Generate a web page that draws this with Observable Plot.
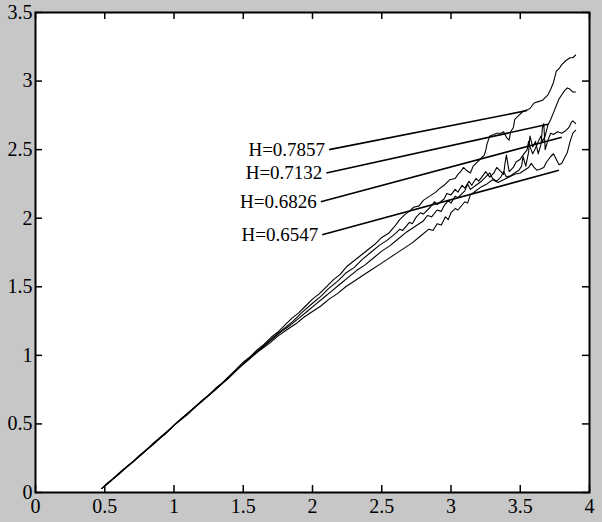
<!DOCTYPE html>
<html><head><meta charset="utf-8">
<script src="https://cdn.jsdelivr.net/npm/d3@7"></script>
<script src="https://cdn.jsdelivr.net/npm/@observablehq/plot@0.6"></script>
<style>html,body{margin:0;padding:0;background:#c7c7c7;}</style>
</head><body><div id="chart"></div>
<script>
const xDomain = [0, 4];
const yDomain = [0, 3.5];
const xTicks = [0, 0.5, 1, 1.5, 2, 2.5, 3, 3.5, 4];
const xTickLabels = ["0", "0.5", "1", "1.5", "2", "2.5", "3", "3.5", "4"];
const yTicks = [0, 0.5, 1, 1.5, 2, 2.5, 3, 3.5];
const yTickLabels = ["0", "0.5", "1", "1.5", "2", "2.5", "3", "3.5"];

const seriesNames = ["H=0.7857", "H=0.7132", "H=0.6826", "H=0.6547"];

const h7857 = [[0.48,0.03],[0.52,0.07],[0.56,0.10],[0.6,0.13],[0.65,0.18],[0.7,0.22],[0.75,0.27],[0.8,0.31],[0.85,0.35],[0.9,0.40],[0.95,0.44],[1.0,0.49],[1.05,0.53],[1.1,0.57],[1.15,0.62],[1.2,0.67],[1.25,0.71],[1.3,0.76],[1.35,0.80],[1.4,0.85],[1.45,0.90],[1.5,0.95],[1.55,0.99],[1.6,1.04],[1.65,1.08],[1.7,1.13],[1.75,1.17],[1.8,1.22],[1.85,1.27],[1.9,1.31],[1.95,1.36],[2.0,1.41],[2.05,1.45],[2.1,1.50],[2.15,1.55],[2.2,1.59],[2.25,1.65],[2.3,1.69],[2.35,1.73],[2.4,1.77],[2.45,1.81],[2.5,1.86],[2.55,1.89],[2.6,1.95],[2.63,1.99],[2.67,2.03],[2.7,2.05],[2.73,2.08],[2.77,2.09],[2.8,2.13],[2.83,2.15],[2.86,2.17],[2.89,2.19],[2.91,2.21],[2.95,2.24],[2.99,2.28],[3.03,2.29],[3.05,2.32],[3.07,2.34],[3.09,2.37],[3.11,2.35],[3.14,2.33],[3.16,2.38],[3.18,2.40],[3.21,2.43],[3.24,2.46],[3.25,2.49],[3.26,2.54],[3.28,2.60],[3.31,2.61],[3.33,2.62],[3.36,2.62],[3.38,2.63],[3.40,2.59],[3.42,2.57],[3.43,2.63],[3.45,2.66],[3.46,2.72],[3.49,2.75],[3.52,2.78],[3.55,2.79],[3.57,2.80],[3.60,2.84],[3.63,2.85],[3.66,2.86],[3.70,2.90],[3.72,2.94],[3.74,2.99],[3.76,3.07],[3.78,3.09],[3.80,3.12],[3.83,3.15],[3.86,3.17],[3.88,3.17],[3.90,3.19]];

const h7132 = [[0.48,0.03],[0.55,0.09],[0.62,0.15],[0.7,0.22],[0.78,0.29],[0.85,0.36],[0.92,0.42],[1.0,0.49],[1.08,0.56],[1.15,0.62],[1.22,0.68],[1.3,0.75],[1.38,0.83],[1.45,0.89],[1.52,0.96],[1.6,1.03],[1.67,1.09],[1.74,1.15],[1.8,1.20],[1.86,1.25],[1.92,1.31],[2.0,1.38],[2.06,1.43],[2.12,1.49],[2.18,1.54],[2.24,1.60],[2.3,1.64],[2.36,1.70],[2.42,1.75],[2.48,1.80],[2.54,1.84],[2.6,1.89],[2.63,1.92],[2.65,1.91],[2.7,1.97],[2.72,1.96],[2.75,2.01],[2.78,2.04],[2.8,2.03],[2.85,2.08],[2.88,2.12],[2.9,2.10],[2.95,2.14],[2.97,2.18],[3.0,2.17],[3.03,2.21],[3.05,2.19],[3.08,2.24],[3.1,2.22],[3.13,2.27],[3.15,2.24],[3.18,2.29],[3.2,2.27],[3.23,2.31],[3.25,2.34],[3.28,2.30],[3.31,2.33],[3.33,2.37],[3.36,2.34],[3.38,2.32],[3.39,2.40],[3.40,2.46],[3.42,2.34],[3.45,2.37],[3.47,2.41],[3.50,2.43],[3.52,2.46],[3.55,2.50],[3.56,2.56],[3.57,2.52],[3.59,2.47],[3.61,2.51],[3.63,2.56],[3.65,2.60],[3.66,2.56],[3.68,2.60],[3.70,2.68],[3.72,2.72],[3.74,2.77],[3.76,2.82],[3.78,2.87],[3.80,2.90],[3.82,2.93],[3.84,2.95],[3.86,2.94],[3.88,2.92],[3.90,2.92]];

const h6826 = [[0.48,0.03],[0.54,0.08],[0.6,0.14],[0.66,0.19],[0.72,0.24],[0.8,0.31],[0.88,0.38],[0.95,0.44],[1.02,0.51],[1.1,0.58],[1.18,0.65],[1.25,0.71],[1.32,0.77],[1.4,0.84],[1.48,0.92],[1.56,0.99],[1.63,1.05],[1.7,1.11],[1.77,1.17],[1.84,1.22],[1.9,1.27],[1.96,1.32],[2.02,1.37],[2.08,1.42],[2.14,1.47],[2.2,1.52],[2.26,1.57],[2.32,1.62],[2.38,1.66],[2.44,1.71],[2.5,1.76],[2.56,1.80],[2.62,1.85],[2.68,1.90],[2.74,1.94],[2.8,1.98],[2.83,2.02],[2.86,2.01],[2.9,2.06],[2.93,2.05],[2.95,2.09],[2.98,2.13],[3.0,2.11],[3.03,2.16],[3.05,2.15],[3.1,2.20],[3.12,2.25],[3.14,2.21],[3.18,2.24],[3.22,2.27],[3.26,2.31],[3.28,2.33],[3.30,2.29],[3.33,2.27],[3.36,2.30],[3.38,2.34],[3.40,2.30],[3.43,2.31],[3.46,2.33],[3.49,2.35],[3.51,2.38],[3.52,2.45],[3.54,2.38],[3.56,2.48],[3.57,2.60],[3.59,2.52],[3.61,2.56],[3.63,2.47],[3.65,2.54],[3.66,2.66],[3.67,2.69],[3.68,2.50],[3.70,2.57],[3.72,2.62],[3.74,2.61],[3.77,2.63],[3.80,2.62],[3.83,2.64],[3.85,2.66],[3.87,2.70],[3.88,2.71],[3.90,2.69]];

const h6547 = [[0.48,0.03],[0.57,0.11],[0.64,0.17],[0.71,0.23],[0.79,0.30],[0.86,0.36],[0.94,0.43],[1.01,0.50],[1.09,0.57],[1.16,0.63],[1.24,0.70],[1.31,0.76],[1.39,0.83],[1.46,0.90],[1.54,0.97],[1.61,1.03],[1.68,1.08],[1.75,1.14],[1.82,1.19],[1.88,1.23],[1.94,1.28],[2.0,1.32],[2.06,1.36],[2.12,1.41],[2.18,1.45],[2.24,1.50],[2.3,1.54],[2.36,1.58],[2.42,1.62],[2.48,1.66],[2.54,1.70],[2.6,1.74],[2.66,1.78],[2.72,1.82],[2.78,1.87],[2.84,1.92],[2.87,1.91],[2.9,1.96],[2.93,1.95],[2.96,2.01],[2.98,1.99],[3.0,2.04],[3.03,2.07],[3.05,2.06],[3.1,2.12],[3.12,2.11],[3.14,2.17],[3.18,2.20],[3.22,2.23],[3.26,2.25],[3.30,2.28],[3.34,2.26],[3.38,2.28],[3.42,2.30],[3.46,2.32],[3.50,2.33],[3.53,2.35],[3.56,2.37],[3.58,2.40],[3.60,2.37],[3.62,2.35],[3.65,2.36],[3.67,2.37],[3.69,2.41],[3.72,2.45],[3.74,2.47],[3.76,2.43],[3.78,2.39],[3.80,2.40],[3.82,2.44],[3.84,2.48],[3.86,2.56],[3.88,2.62],[3.90,2.64]];

const leaderX1 = [2.12, 2.10, 2.06, 2.07];
const leaderY1 = [2.50, 2.33, 2.12, 1.88];
const leaderX2 = [3.55, 3.70, 3.80, 3.78];
const leaderY2 = [2.785, 2.685, 2.59, 2.35];

const lines = [h7857, h7132, h6826, h6547].flatMap((pts, k) =>
  pts.map(([x, y]) => ({series: seriesNames[k], x, y})));
const leaders = seriesNames.map((name, i) => ({
  name, x1: leaderX1[i], y1: leaderY1[i], x2: leaderX2[i], y2: leaderY2[i]
}));

const chart = Plot.plot({
  width: 602,
  height: 522,
  marginLeft: 35,
  marginRight: 13,
  marginTop: 12,
  marginBottom: 30,
  style: {background: "#c7c7c7", fontFamily: "'Liberation Serif', 'Times New Roman', serif", fontSize: "20px", color: "black"},
  x: {domain: xDomain, ticks: xTicks, tickSize: 0, tickPadding: 6, label: null,
      tickFormat: d => xTickLabels[xTicks.indexOf(d)]},
  y: {domain: yDomain, ticks: yTicks, tickSize: 0, tickPadding: 3, label: null,
      tickFormat: d => yTickLabels[yTicks.indexOf(d)]},
  marks: [
    Plot.frame({fill: "white", stroke: null}),
    Plot.ruleX(xTicks, {x: d => d, y1: yDomain[0], y2: yDomain[0], insetBottom: 7, stroke: "black", strokeWidth: 1.5}),
    Plot.ruleX(xTicks, {x: d => d, y1: yDomain[1], y2: yDomain[1], insetTop: 7, stroke: "black", strokeWidth: 1.5}),
    Plot.ruleY(yTicks, {y: d => d, x1: xDomain[0], x2: xDomain[0], insetLeft: 7, stroke: "black", strokeWidth: 1.5}),
    Plot.ruleY(yTicks, {y: d => d, x1: xDomain[1], x2: xDomain[1], insetRight: 7, stroke: "black", strokeWidth: 1.5}),
    Plot.line(lines, {x: "x", y: "y", z: "series", stroke: "black", strokeWidth: 1.1}),
    Plot.link(leaders, {x1: "x1", y1: "y1", x2: "x2", y2: "y2", stroke: "black", strokeWidth: 1.6}),
    Plot.text(leaders, {x: "x1", y: "y1", text: "name", textAnchor: "end", dx: -4, fontSize: 19, fill: "black"}),
    Plot.frame({stroke: "black", strokeWidth: 2})
  ]
});
document.getElementById("chart").appendChild(chart);
</script>
</body></html>
